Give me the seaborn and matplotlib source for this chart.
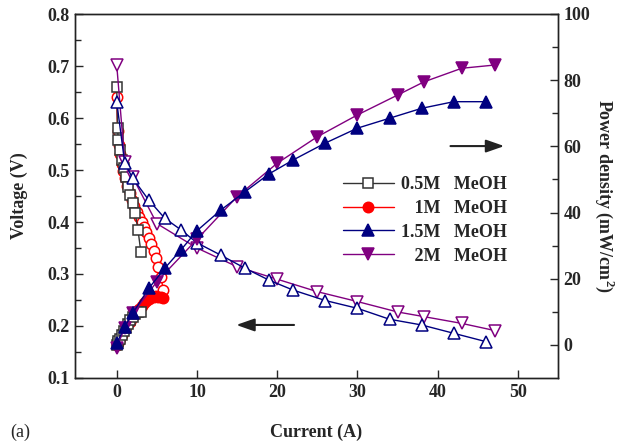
import numpy as np
import pandas as pd
import matplotlib
matplotlib.use("Agg")
import matplotlib.pyplot as plt
import seaborn as sns
from matplotlib.lines import Line2D

# ---------------- data ----------------
I_05 = [0, 0.1, 0.2, 0.35, 0.6, 0.85, 1.1, 1.4, 1.7, 2.0, 2.3, 2.65, 3.0]
V_05 = [0.66, 0.58, 0.558, 0.538, 0.519, 0.503, 0.487, 0.468, 0.452, 0.436, 0.417, 0.385, 0.343]
P_05 = [0.0, 0.6, 1.1, 1.8, 3.0, 4.1, 5.1, 6.3, 7.4, 8.4, 9.2, 9.8, 10.0]

I_1 = [0, 0.1, 0.25, 0.4, 0.6, 0.8, 1.0, 1.3, 1.6, 1.9, 2.2, 2.5, 2.8, 3.1,
       3.4, 3.7, 4.0, 4.3, 4.6, 4.9, 5.2, 5.5, 5.8]
V_1 = [0.640, 0.575, 0.548, 0.530, 0.512, 0.498, 0.485, 0.470, 0.456, 0.443,
       0.431, 0.420, 0.410, 0.400, 0.390, 0.380, 0.370, 0.358, 0.345, 0.330,
       0.313, 0.295, 0.270]
P_1 = [0.0, 0.55, 1.3, 2.0, 2.9, 3.8, 4.7, 5.9, 7.0, 8.1, 9.1, 10.1, 11.0, 11.9,
       12.7, 13.4, 14.0, 14.4, 14.6, 14.7, 14.6, 14.4, 14.1]

I_15 = [0, 1.0, 2.0, 4, 6, 8, 10, 13, 16, 19, 22, 26, 30, 34, 38, 42, 46]
V_15 = [0.631, 0.513, 0.484, 0.442, 0.407, 0.385, 0.36, 0.336, 0.311, 0.288,
        0.269, 0.249, 0.234, 0.213, 0.202, 0.186, 0.170]
P_15 = [0.5, 5.5, 9.6, 17.1, 23.2, 28.7, 34.5, 40.8, 46.3, 51.7, 55.9, 61.0,
        65.5, 68.5, 71.5, 73.5, 73.5]

I_2 = [0, 1.0, 2.0, 5, 10, 15, 20, 25, 30, 35, 38.3, 43, 47.2]
V_2 = [0.702, 0.515, 0.486, 0.397, 0.35, 0.314, 0.29, 0.266, 0.247, 0.227, 0.218,
       0.205, 0.191]
P_2 = [-0.8, 5.2, 9.5, 19.1, 31.9, 44.8, 54.9, 62.9, 69.5, 75.5, 79.5, 83.6, 84.6]

labels = ["0.5M   MeOH", "   1M   MeOH", "1.5M   MeOH", "   2M   MeOH"]
colors = ["#333333", "#ff0000", "#000080", "#800080"]
markers = ["s", "o", "^", "v"]
msz = [7.5, 7.5, 9, 9]

series = [(I_05, V_05, P_05), (I_1, V_1, P_1), (I_15, V_15, P_15), (I_2, V_2, P_2)]
draw_order = [1, 0, 3, 2]

# ---------------- style ----------------
sns.set_style("ticks")
plt.rcParams["font.family"] = ["Liberation Serif", "DejaVu Serif"]
plt.rcParams["font.weight"] = "bold"
plt.rcParams["axes.labelweight"] = "bold"
plt.rcParams["mathtext.fontset"] = "custom"
plt.rcParams["mathtext.rm"] = "Liberation Serif:bold"
plt.rcParams["mathtext.bf"] = "Liberation Serif:bold"

fig = plt.figure(figsize=(6.2, 4.45), dpi=100)
ax = fig.add_axes([75 / 620, 1 - 378 / 445, (558 - 75) / 620, (378 - 14) / 445])
ax2 = ax.twinx()

for k in draw_order:
    I, V, P = series[k]
    c, m, s = colors[k], markers[k], msz[k]
    dfv = pd.DataFrame({"I": I, "V": V})
    dfp = pd.DataFrame({"I": I, "P": P})
    sns.lineplot(data=dfv, x="I", y="V", ax=ax, color=c, lw=1.0, sort=False,
                 estimator=None, marker=m, markersize=s, markerfacecolor="white",
                 markeredgecolor=c, markeredgewidth=1.1, legend=False)
    sns.lineplot(data=dfp, x="I", y="P", ax=ax2, color=c, lw=1.0, sort=False,
                 estimator=None, marker=m, markersize=s,
                 markerfacecolor=("white" if m == "s" else c),
                 markeredgecolor=c, markeredgewidth=1.1, legend=False)

ax.set_xlim(-5.2, 55)
ax.set_ylim(0.1, 0.8)
ax2.set_ylim(-10, 100)
ax.set_xticks([0, 10, 20, 30, 40, 50])
ax.set_yticks([0.1, 0.2, 0.3, 0.4, 0.5, 0.6, 0.7, 0.8])
ax.set_yticks(np.arange(0.15, 0.8, 0.1), minor=True)
ax2.set_yticks([0, 20, 40, 60, 80, 100])
ax2.set_yticks([10, 30, 50, 70, 90], minor=True)
ax.set_yticklabels(["0.1", "0.2", "0.3", "0.4", "0.5", "0.6", "0.7", "0.8"])

for a in (ax, ax2):
    a.tick_params(direction="in", labelsize=13, width=1, length=6, pad=4)
    a.tick_params(which="minor", direction="in", length=4, width=1)
    for sp in a.spines.values():
        sp.set_linewidth(1.0)
        sp.set_color("#222222")
ax.tick_params(axis="x", top=False)
ax2.tick_params(axis="y", left=False, right=True)

ax.set_xlabel("Current (A)", fontsize=13, fontweight="bold", labelpad=17)
ax.set_ylabel("Voltage (V)", fontsize=13, fontweight="bold", labelpad=14)
ax2.set_ylabel("Power density (mW/cm$^2$)", fontsize=13, fontweight="bold",
               rotation=270, labelpad=19)

fig.text(10 / 620, 1 - 432 / 445, "(a)", fontsize=13, fontweight="normal",
         va="center", ha="left")

# arrows
ax.annotate("", xy=(48.3, 0.546), xytext=(41.6, 0.546),
            arrowprops=dict(arrowstyle="-|>,head_length=1.0,head_width=0.35",
                            mutation_scale=11, lw=1.5, color="#222222",
                            shrinkA=0, shrinkB=0))
ax.annotate("", xy=(14.9, 0.202), xytext=(22.1, 0.202),
            arrowprops=dict(arrowstyle="-|>,head_length=1.0,head_width=0.35",
                            mutation_scale=11, lw=1.5, color="#222222",
                            shrinkA=0, shrinkB=0))

# legend
handles = []
for c, m, s in zip(colors, markers, msz):
    handles.append(Line2D([0], [0], color=c, lw=1.0, marker=m, markersize=s,
                          markerfacecolor=("white" if m == "s" else c),
                          markeredgecolor=c, markeredgewidth=1.1))
leg = ax2.legend(handles, labels, loc="upper left",
                 bbox_to_anchor=((343 - 75) / (558 - 75), 1 - (176 - 14) / (378 - 14)),
                 frameon=False, fontsize=13, handlelength=2.8, handletextpad=0.4,
                 labelspacing=0.38, borderaxespad=0, borderpad=0)
for t in leg.get_texts():
    t.set_fontweight("bold")

fig.savefig("out.png", dpi=100)
